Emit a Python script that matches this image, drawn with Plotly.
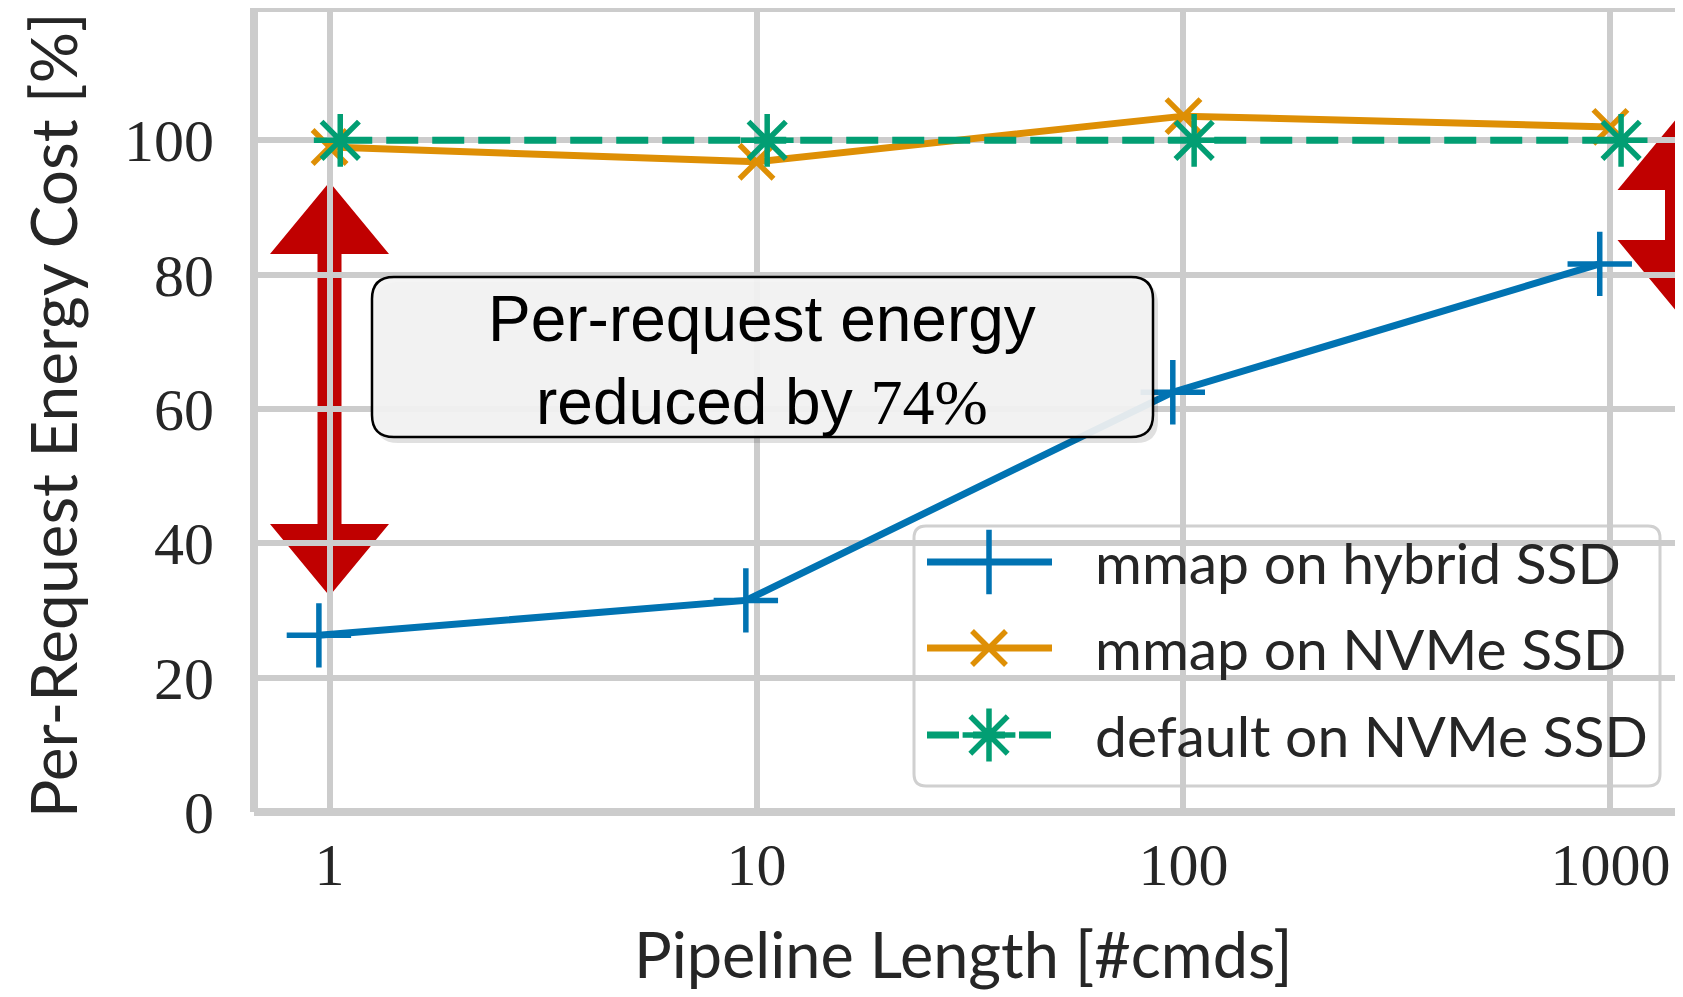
import plotly.graph_objects as go

# ---------------- data ----------------
pipeline_length = [1, 10, 100, 1000]
mmap_hybrid = [26.3, 31.5, 62.5, 81.6]
mmap_nvme = [99.0, 96.8, 103.6, 102.0]
default_nvme = [100.0, 100.0, 100.0, 100.0]
x_ticks = [1, 10, 100, 1000]
x_ticktext = ["1", "10", "100", "1000"]
y_ticks = [0, 20, 40, 60, 80, 100]
series_names = ["mmap on hybrid SSD", "mmap on NVMe SSD", "default on NVMe SSD"]

# ---------------- style ----------------
BLUE = "#0173b2"
ORANGE = "#de8f05"
GREEN = "#029e73"
RED = "#c00000"
GRID = "#cccccc"
TXT = "#262626"
SANS = "Lato, 'Open Sans', sans-serif"
SERIF = "'Liberation Serif', 'DejaVu Serif', serif"

OFF = 8                      # browser body margin
W, H = 1683 - OFF, 997 - OFF
L, R, T, B = 246, 0, 0, 185
PW, PH = W - L - R, H - T - B
X_RANGE = [-0.177, 3.170]
Y_RANGE = [0, 119.7]

# dodge factors (log-space offsets) so markers do not overlap
DODGE = {0: 10 ** -0.025, 1: 1.0, 2: 10 ** 0.025}


def px(xp):
    # page pixel x -> paper fraction
    return (xp - OFF - L) / PW


def py(yp):
    # page pixel y -> paper fraction
    return (H - B - (yp - OFF)) / PH


def rounded_rect(x0, y0, x1, y1, r):
    rx = r / PW
    ry = r / PH
    a, b, c, d = px(x0), py(y1), px(x1), py(y0)  # left, bottom, right, top
    return (f"M{a+rx},{b} L{c-rx},{b} Q{c},{b} {c},{b+ry} L{c},{d-ry} "
            f"Q{c},{d} {c-rx},{d} L{a+rx},{d} Q{a},{d} {a},{d-ry} "
            f"L{a},{b+ry} Q{a},{b} {a+rx},{b} Z")


def double_arrow(cx, y_top, y_bot, head_w=119, head_h=72, shaft_w=24):
    hw, sw = head_w / 2, shaft_w / 2
    pts = [
        (cx, y_top), (cx + hw, y_top + head_h), (cx + sw, y_top + head_h),
        (cx + sw, y_bot - head_h), (cx + hw, y_bot - head_h), (cx, y_bot),
        (cx - hw, y_bot - head_h), (cx - sw, y_bot - head_h),
        (cx - sw, y_top + head_h), (cx - hw, y_top + head_h),
    ]
    return "M" + " L".join(f"{px(a)},{py(b)}" for a, b in pts) + " Z"


fig = go.Figure()

series = [
    (mmap_hybrid, BLUE, "cross-thin", 46, None),
    (mmap_nvme, ORANGE, "x-thin", 34, None),
    (default_nvme, GREEN, "asterisk", 44, "32px,14px"),
]

for i, (vals, col, sym, size, dash) in enumerate(series):
    fig.add_trace(go.Scatter(
        x=[v * DODGE[i] for v in pipeline_length], y=vals,
        mode="lines+markers", name=series_names[i],
        line=dict(color=col, width=7, dash=dash),
        marker=dict(symbol=sym, size=size, color=col,
                    line=dict(color=col, width=5.5)),
        showlegend=False, xaxis="x", yaxis="y",
    ))

# ---------------- custom legend (overlay axes in paper units) ----------------
legend_rows = [562, 648, 735]
leg_x0, leg_x1, leg_mx = 927, 1052, 989
for i, (vals, col, sym, size, dash) in enumerate(series):
    yy = py(legend_rows[i])
    fig.add_trace(go.Scatter(
        x=[px(leg_x0), px(leg_x1)], y=[yy, yy], mode="lines",
        line=dict(color=col, width=7, dash=dash),
        showlegend=False, hoverinfo="skip", xaxis="x2", yaxis="y2",
    ))
    fig.add_trace(go.Scatter(
        x=[px(leg_mx)], y=[yy], mode="markers",
        marker=dict(symbol=sym, size=size, color=col,
                    line=dict(color=col, width=5.5)),
        showlegend=False, hoverinfo="skip", xaxis="x2", yaxis="y2",
    ))

annotations = []
for i, name in enumerate(series_names):
    annotations.append(dict(
        xref="paper", yref="paper", x=px(1093), y=py(legend_rows[i]),
        xanchor="left", yanchor="middle", text=name, showarrow=False,
        font=dict(family=SANS, size=57, color=TXT),
    ))

# axis titles
annotations.append(dict(
    xref="paper", yref="paper", x=px(963), y=py(953),
    xanchor="center", yanchor="middle", text="Pipeline Length [#cmds]",
    showarrow=False, font=dict(family=SANS, size=63, color=TXT),
))
annotations.append(dict(
    xref="paper", yref="paper", x=px(52), y=py(415),
    xanchor="center", yanchor="middle", text="Per-Request Energy Cost [%]",
    textangle=-90, showarrow=False, font=dict(family=SANS, size=64, color=TXT),
))
# callout text
annotations.append(dict(
    xref="paper", yref="paper", x=px(762), y=py(360),
    xanchor="center", yanchor="middle",
    text=("Per-request energy<br>reduced by <span style=\"font-family:"
          "'Liberation Serif', serif\">74%</span>"),
    showarrow=False, font=dict(family="'Liberation Sans', Arial, sans-serif",
                                size=64, color="black"),
))

shapes = [
    # frame (left, top, bottom)
    dict(type="line", xref="paper", yref="paper", x0=0, x1=0, y0=0, y1=1,
         line=dict(color=GRID, width=8), layer="below"),
    dict(type="line", xref="paper", yref="paper", x0=0, x1=1, y0=1, y1=1,
         line=dict(color=GRID, width=8), layer="below"),
    dict(type="line", xref="paper", yref="paper", x0=0, x1=1, y0=0, y1=0,
         line=dict(color=GRID, width=8), layer="below"),
    # red double arrows
    dict(type="path", xref="paper", yref="paper",
         path=double_arrow(329.5, 182, 596), fillcolor=RED,
         line=dict(width=0), layer="between"),
    dict(type="path", xref="paper", yref="paper",
         path=double_arrow(1677, 118, 312), fillcolor=RED,
         line=dict(width=0), layer="between"),
    # legend box
    dict(type="path", xref="paper", yref="paper",
         path=rounded_rect(914, 526, 1660, 786, 12),
         fillcolor="rgba(255,255,255,0.82)",
         line=dict(color="#d0d0d0", width=3), layer="between"),
    # callout shadow + box
    dict(type="path", xref="paper", yref="paper",
         path=rounded_rect(376, 282, 1158, 443, 22),
         fillcolor="rgba(0,0,0,0.12)", line=dict(width=0), layer="above"),
    dict(type="path", xref="paper", yref="paper",
         path=rounded_rect(372, 277, 1153, 437, 22),
         fillcolor="rgba(243,243,243,0.93)",
         line=dict(color="black", width=2.5), layer="above"),
]

fig.update_layout(
    width=W, height=H,
    margin=dict(l=L, r=R, t=T, b=B, pad=0),
    paper_bgcolor="white", plot_bgcolor="white",
    showlegend=False,
    xaxis=dict(type="log", range=X_RANGE, tickvals=x_ticks, ticktext=x_ticktext,
               showgrid=True, gridcolor=GRID, gridwidth=5.5, zeroline=False,
               showline=False, ticks="outside", ticklen=0,
               tickcolor="rgba(0,0,0,0)",
               tickfont=dict(family=SERIF, size=60, color=TXT)),
    yaxis=dict(range=Y_RANGE, tickvals=y_ticks, showgrid=True, gridcolor=GRID,
               gridwidth=5.5, zeroline=False, showline=False, ticks="outside",
               ticklen=27, tickcolor="rgba(0,0,0,0)",
               tickfont=dict(family=SERIF, size=60, color=TXT)),
    xaxis2=dict(range=[0, 1], overlaying="x", visible=False, fixedrange=True),
    yaxis2=dict(range=[0, 1], overlaying="y", visible=False, fixedrange=True),
    annotations=annotations,
    shapes=shapes,
)

fig.write_html("out.html")
